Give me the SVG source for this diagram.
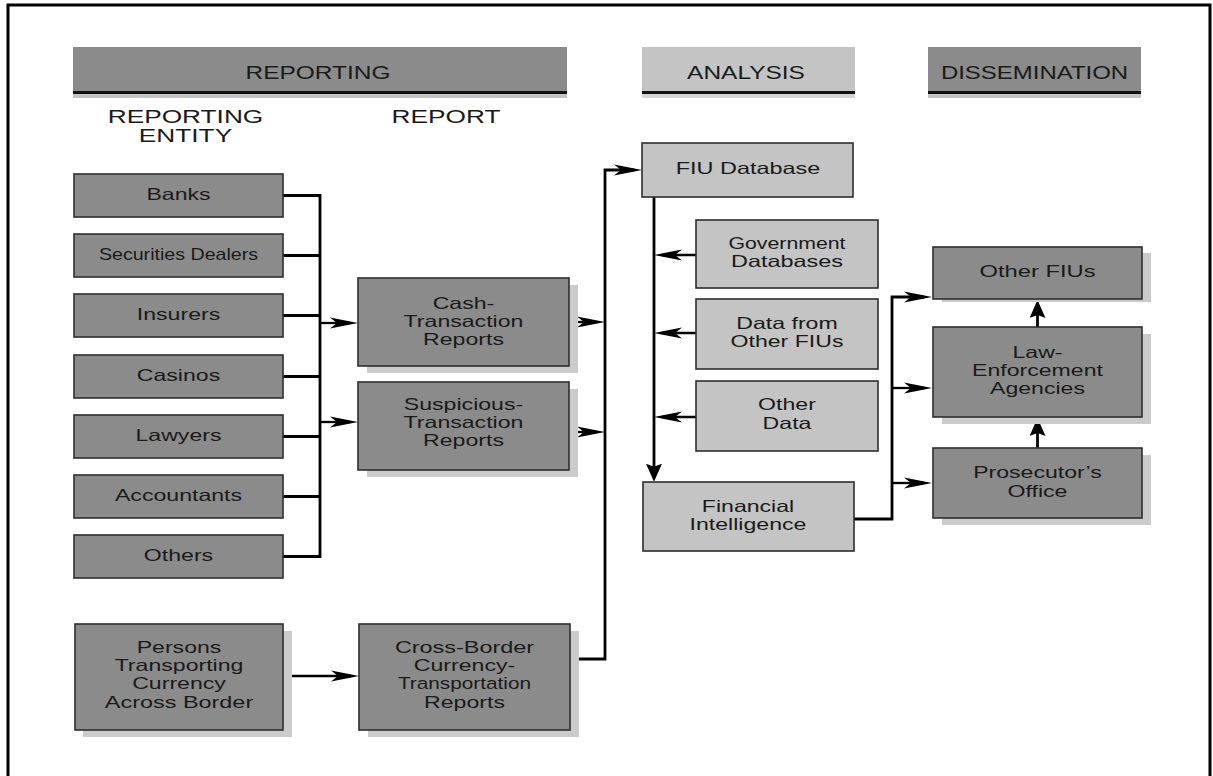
<svg xmlns="http://www.w3.org/2000/svg" width="1213" height="776" viewBox="0 0 1213 776">
<style>
  text { font-family: "Liberation Sans", Arial, Helvetica, sans-serif; fill: #1a1a1a; text-anchor: middle; }
  .t { font-size: 16.5px; }
  .h { font-size: 17.5px; }
  .dark { fill: #8b8b8b; stroke: #2e2e2e; stroke-width: 1.6; }
  .light { fill: #c4c4c4; stroke: #2e2e2e; stroke-width: 1.6; }
  .shadow { fill: #cbcbcb; }
  .conn { fill: none; stroke: #000; stroke-width: 2.8; }
  .arr { fill: none; stroke: #000; stroke-width: 2.3; }
  .hl { stroke: #111; stroke-width: 3; }
</style>
<defs>
  <marker id="ah" markerUnits="userSpaceOnUse" markerWidth="30" markerHeight="14" refX="20" refY="7" orient="auto">
    <path d="M0,1.5 L28,7 L0,12.5 L7,7 Z" fill="#000"/>
  </marker>
  <marker id="as" markerUnits="userSpaceOnUse" markerWidth="20" markerHeight="18" refX="12" refY="8" orient="auto">
    <path d="M0,0 L18,8 L0,16 L3,8 Z" fill="#000"/>
  </marker>
</defs>
<rect x="0" y="0" width="1213" height="776" fill="#fff"/>
<rect x="8" y="5" width="1202" height="800" fill="none" stroke="#000" stroke-width="3"/>

<!-- Headers -->
<g id="hdr-reporting">
  <rect x="73" y="47" width="494" height="45" fill="#8b8b8b"/>
  <rect x="73" y="94" width="494" height="4" fill="#c4c4c4"/>
  <line x1="73" y1="92.5" x2="567" y2="92.5" class="hl"/>
  <text class="h" transform="matrix(1.4 0 0 1 318 0)" y="79">REPORTING</text>
</g>
<g id="hdr-analysis">
  <rect x="642" y="47" width="213" height="45" fill="#c4c4c4"/>
  <rect x="642" y="94" width="213" height="4" fill="#d4d4d4"/>
  <line x1="642" y1="92.5" x2="855" y2="92.5" class="hl"/>
  <text class="h" transform="matrix(1.4 0 0 1 746 0)" y="79">ANALYSIS</text>
</g>
<g id="hdr-dissemination">
  <rect x="928" y="47" width="213" height="45" fill="#8b8b8b"/>
  <rect x="928" y="94" width="213" height="4" fill="#c4c4c4"/>
  <line x1="928" y1="92.5" x2="1141" y2="92.5" class="hl"/>
  <text class="h" transform="matrix(1.37 0 0 1 1034.5 0)" y="79">DISSEMINATION</text>
</g>
<g id="sub-entity">
  <text class="h" transform="matrix(1.5 0 0 1 185.5 0)" y="123">REPORTING</text>
  <text class="h" transform="matrix(1.5 0 0 1 185.5 0)" y="142">ENTITY</text>
</g>
<g id="sub-report">
  <text class="h" transform="matrix(1.5 0 0 1 446 0)" y="123">REPORT</text>
</g>

<!-- Connectors -->
<g id="connectors">
  <path class="conn" d="M283,195.5 H320 M283,255.5 H320 M283,315.5 H320 M283,376.5 H320 M283,436.5 H320 M283,496.5 H320 M283,556.5 H320 M320,194.1 V557.9"/>
  <path class="arr" d="M320,323 H350" marker-end="url(#ah)"/>
  <path class="arr" d="M320,422 H350" marker-end="url(#ah)"/>
  <path class="arr" d="M569,322 H597" marker-end="url(#ah)"/>
  <path class="arr" d="M569,432 H597" marker-end="url(#ah)"/>
  <path class="arr" d="M283,676 H351" marker-end="url(#ah)"/>
  <path class="conn" d="M570,659 H605 V170 H634" marker-end="url(#ah)"/>
  <path class="conn" d="M654,197 V475.7" marker-end="url(#as)"/>
  <path class="arr" d="M696,255 H662" marker-end="url(#ah)"/>
  <path class="arr" d="M696,333 H662" marker-end="url(#ah)"/>
  <path class="arr" d="M696,417 H662" marker-end="url(#ah)"/>
  <path class="conn" d="M853,519 H892 V297 H924" marker-end="url(#ah)"/>
  <path class="arr" d="M892,388 H924" marker-end="url(#ah)"/>
  <path class="arr" d="M892,483 H924" marker-end="url(#ah)"/>
  <path class="conn" d="M1037.5,327 V306" marker-end="url(#as)"/>
  <path class="conn" d="M1037.5,448 V424" marker-end="url(#as)"/>
</g>

<!-- Reporting entities -->
<g id="banks">
  <rect class="dark" x="74" y="174" width="209" height="43"/>
  <text class="t" transform="matrix(1.4 0 0 1 178.5 0)" y="200">Banks</text>
</g>
<g id="securities">
  <rect class="dark" x="74" y="234" width="209" height="43"/>
  <text class="t" transform="matrix(1.19 0 0 1 178.5 0)" y="260">Securities Dealers</text>
</g>
<g id="insurers">
  <rect class="dark" x="74" y="294" width="209" height="43"/>
  <text class="t" transform="matrix(1.4 0 0 1 178.5 0)" y="320">Insurers</text>
</g>
<g id="casinos">
  <rect class="dark" x="74" y="355" width="209" height="43"/>
  <text class="t" transform="matrix(1.4 0 0 1 178.5 0)" y="381">Casinos</text>
</g>
<g id="lawyers">
  <rect class="dark" x="74" y="415" width="209" height="43"/>
  <text class="t" transform="matrix(1.4 0 0 1 178.5 0)" y="441">Lawyers</text>
</g>
<g id="accountants">
  <rect class="dark" x="74" y="475" width="209" height="43"/>
  <text class="t" transform="matrix(1.4 0 0 1 178.5 0)" y="501">Accountants</text>
</g>
<g id="others">
  <rect class="dark" x="74" y="535" width="209" height="43"/>
  <text class="t" transform="matrix(1.4 0 0 1 178.5 0)" y="561">Others</text>
</g>
<g id="persons">
  <rect class="shadow" x="83" y="631" width="209" height="106"/>
  <rect class="dark" x="75" y="624" width="208" height="106"/>
  <text class="t" transform="matrix(1.4 0 0 1 179 0)" y="653">Persons</text>
  <text class="t" transform="matrix(1.4 0 0 1 179 0)" y="671">Transporting</text>
  <text class="t" transform="matrix(1.4 0 0 1 179 0)" y="689.5">Currency</text>
  <text class="t" transform="matrix(1.42 0 0 1 179 0)" y="708">Across Border</text>
</g>

<!-- Reports -->
<g id="ctr">
  <rect class="shadow" x="367" y="285" width="211" height="88"/>
  <rect class="dark" x="358" y="278" width="211" height="88"/>
  <text class="t" transform="matrix(1.4 0 0 1 463.5 0)" y="309">Cash-</text>
  <text class="t" transform="matrix(1.4 0 0 1 463.5 0)" y="327">Transaction</text>
  <text class="t" transform="matrix(1.4 0 0 1 463.5 0)" y="345">Reports</text>
</g>
<g id="str">
  <rect class="shadow" x="367" y="389" width="211" height="88"/>
  <rect class="dark" x="358" y="382" width="211" height="88"/>
  <text class="t" transform="matrix(1.4 0 0 1 463.5 0)" y="410">Suspicious-</text>
  <text class="t" transform="matrix(1.4 0 0 1 463.5 0)" y="428">Transaction</text>
  <text class="t" transform="matrix(1.4 0 0 1 463.5 0)" y="446">Reports</text>
</g>
<g id="cbr">
  <rect class="shadow" x="368" y="631" width="211" height="106"/>
  <rect class="dark" x="359" y="624" width="211" height="106"/>
  <text class="t" transform="matrix(1.42 0 0 1 464.5 0)" y="653">Cross-Border</text>
  <text class="t" transform="matrix(1.4 0 0 1 464.5 0)" y="671">Currency-</text>
  <text class="t" transform="matrix(1.26 0 0 1 464.5 0)" y="689.5">Transportation</text>
  <text class="t" transform="matrix(1.4 0 0 1 464.5 0)" y="708">Reports</text>
</g>

<!-- Analysis -->
<g id="fiu-db">
  <rect class="light" x="642" y="143" width="211" height="54"/>
  <text class="t" transform="matrix(1.42 0 0 1 748 0)" y="174">FIU Database</text>
</g>
<g id="gov-db">
  <rect class="light" x="696" y="220" width="182" height="68"/>
  <text class="t" transform="matrix(1.29 0 0 1 787 0)" y="249.5">Government</text>
  <text class="t" transform="matrix(1.42 0 0 1 787 0)" y="267.5">Databases</text>
</g>
<g id="data-fius">
  <rect class="light" x="696" y="299" width="182" height="70"/>
  <text class="t" transform="matrix(1.4 0 0 1 787 0)" y="329.5">Data from</text>
  <text class="t" transform="matrix(1.4 0 0 1 787 0)" y="347.5">Other FIUs</text>
</g>
<g id="other-data">
  <rect class="light" x="696" y="381" width="182" height="70"/>
  <text class="t" transform="matrix(1.4 0 0 1 787 0)" y="410">Other</text>
  <text class="t" transform="matrix(1.4 0 0 1 787 0)" y="429">Data</text>
</g>
<g id="fin-intel">
  <rect class="light" x="643" y="482" width="211" height="69"/>
  <text class="t" transform="matrix(1.4 0 0 1 748 0)" y="512">Financial</text>
  <text class="t" transform="matrix(1.4 0 0 1 748 0)" y="530">Intelligence</text>
</g>

<!-- Dissemination -->
<g id="other-fius">
  <rect class="shadow" x="942" y="253" width="209" height="49"/>
  <rect class="dark" x="933" y="247" width="209" height="52"/>
  <text class="t" transform="matrix(1.44 0 0 1 1037.5 0)" y="277">Other FIUs</text>
</g>
<g id="law-enf">
  <rect class="shadow" x="942" y="334" width="209" height="90"/>
  <rect class="dark" x="933" y="327" width="209" height="90"/>
  <text class="t" transform="matrix(1.4 0 0 1 1037.5 0)" y="358">Law-</text>
  <text class="t" transform="matrix(1.4 0 0 1 1037.5 0)" y="376.5">Enforcement</text>
  <text class="t" transform="matrix(1.4 0 0 1 1037.5 0)" y="394">Agencies</text>
</g>
<g id="prosecutor">
  <rect class="shadow" x="942" y="455" width="209" height="70"/>
  <rect class="dark" x="933" y="448" width="209" height="70"/>
  <text class="t" transform="matrix(1.4 0 0 1 1037.5 0)" y="478">Prosecutor’s</text>
  <text class="t" transform="matrix(1.4 0 0 1 1037.5 0)" y="497">Office</text>
</g>
</svg>
